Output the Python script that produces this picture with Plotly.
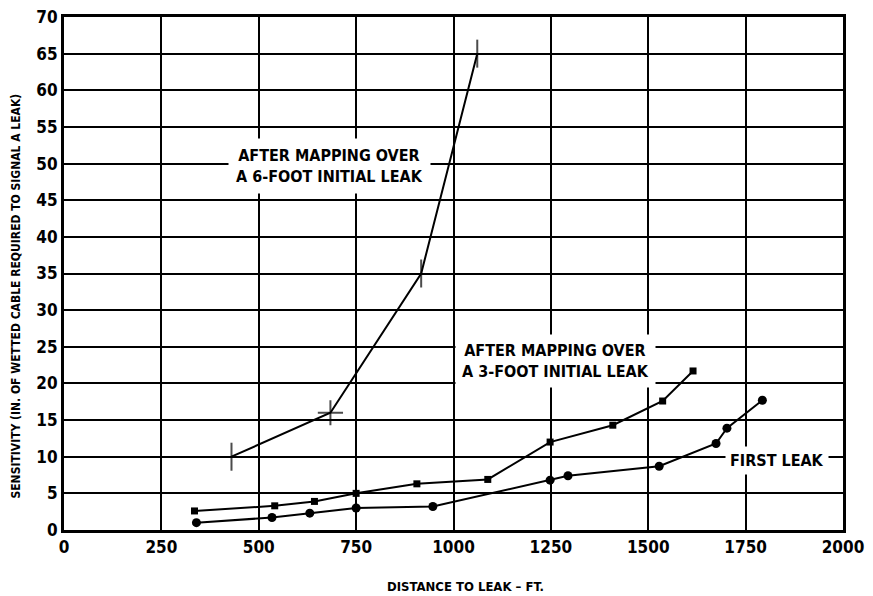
import plotly.graph_objects as go

# distance to leak (ft) and sensitivity (in. of wetted cable)
six_ft_x = [430, 684, 917, 1061]
six_ft_y = [10, 16, 35, 65]
six_ft_marks = ['line-ns', 'cross-thin', 'line-ns', 'line-ns']

three_ft_x = [335, 541, 643, 750, 906, 1088, 1248, 1409, 1537, 1615]
three_ft_y = [2.6, 3.3, 3.9, 5.0, 6.3, 6.9, 12.0, 14.3, 17.6, 21.7]

first_x = [340, 534, 631, 750, 947, 1248, 1294, 1528, 1674, 1702, 1793]
first_y = [1.0, 1.7, 2.3, 3.0, 3.2, 6.8, 7.4, 8.7, 11.8, 13.9, 17.7]

x_ticks = [0, 250, 500, 750, 1000, 1250, 1500, 1750, 2000]
y_ticks = list(range(0, 75, 5))

FONT = 'DejaVu Sans Condensed, Liberation Sans Narrow, sans-serif'

fig = go.Figure()

fig.add_trace(go.Scatter(x=six_ft_x, y=six_ft_y, mode='lines+markers',
                         line=dict(color='black', width=2),
                         marker=dict(symbol=six_ft_marks, size=[20, 18, 20, 20],
                                     color='black', line=dict(color='black', width=2))))
fig.add_trace(go.Scatter(x=three_ft_x, y=three_ft_y, mode='lines+markers',
                         line=dict(color='black', width=2),
                         marker=dict(symbol='square', size=7, color='black')))
fig.add_trace(go.Scatter(x=first_x, y=first_y, mode='lines+markers',
                         line=dict(color='black', width=2),
                         marker=dict(symbol='circle', size=9, color='black')))

# labels sit on white boxes that break the grid
def label(text, x, y, pad):
    fig.add_annotation(x=x, y=y, text=text, showarrow=False, bgcolor='white',
                       borderpad=pad, font=dict(family=FONT, size=16, color='black'))

label('<b>AFTER MAPPING OVER<br>A 6-FOOT INITIAL LEAK</b>', 681, 49.7, 7)
label('<b>AFTER MAPPING OVER<br>A 3-FOOT INITIAL LEAK</b>', 1262, 23, 6)
label('<b>FIRST LEAK</b>', 1831, 9.45, 4)

tick_font = dict(family=FONT, size=17, color='black', weight='bold')
fig.update_xaxes(range=[0, 2000], tickvals=x_ticks, ticks='', showgrid=True,
                 gridcolor='black', gridwidth=2, showline=True, linecolor='black',
                 linewidth=3, mirror=True, zeroline=False, automargin=False,
                 ticklabeloverflow='allow', tickfont=tick_font)
fig.update_yaxes(range=[0, 70], tickvals=y_ticks, ticks='', showgrid=True,
                 gridcolor='black', gridwidth=2, showline=True, linecolor='black',
                 linewidth=3, mirror=True, zeroline=False, automargin=False,
                 ticklabeloverflow='allow', tickfont=tick_font)

fig.add_annotation(text='<b>DISTANCE TO LEAK – FT.</b>', xref='paper', yref='paper',
                   x=0.516, y=-0.11, yanchor='middle', showarrow=False,
                   font=dict(family=FONT, size=13, color='black'))
fig.add_annotation(text='<b>SENSITIVITY (IN. OF WETTED CABLE REQUIRED TO SIGNAL A LEAK)</b>',
                   xref='paper', yref='paper', x=-0.061, y=0.456, xanchor='center',
                   textangle=-90, showarrow=False,
                   font=dict(family=FONT, size=12, color='black'))

# page adds an 8px body margin, so the figure is drawn a little smaller
fig.update_layout(width=865, height=586, showlegend=False,
                  paper_bgcolor='white', plot_bgcolor='white',
                  margin=dict(l=56, r=30, t=9, b=64))

fig.write_html("out.html")
